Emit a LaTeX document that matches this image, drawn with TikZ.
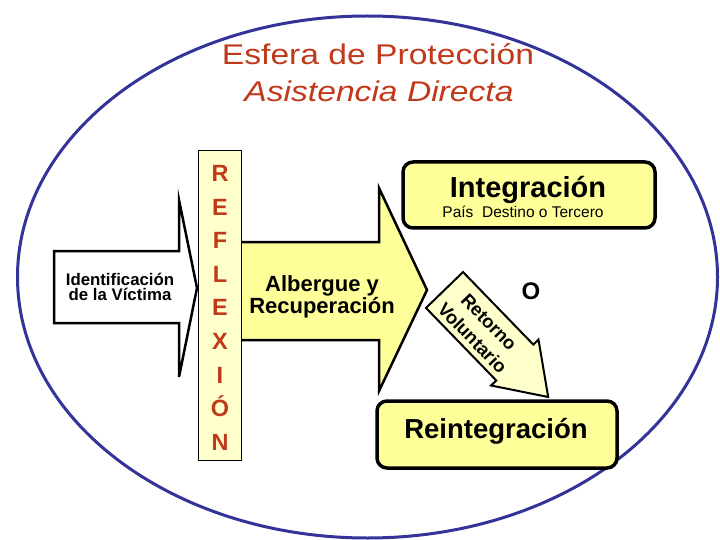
\documentclass[tikz,border=0pt]{standalone}
\usepackage{fontspec}
\setmainfont{Liberation Sans}
\newfontfamily\ancha[FakeStretch=1.18]{Liberation Sans}
\usetikzlibrary{calc}
\definecolor{rojoTit}{HTML}{C0391B}
\definecolor{azulEsf}{HTML}{333399}
\definecolor{amarillo}{HTML}{FFFF99}
\definecolor{crema}{HTML}{FFFFCC}
\tikzset{
	caja/.style={draw, line width=3.5pt, rounded corners=10pt, fill=amarillo, inner sep=0pt},
	flecha/.style={draw=black, line width=2.5pt, line join=miter},
	titulo/.style={text=rojoTit, anchor=base, font={\ancha\fontsize{28.5}{30}\selectfont}},
	letra/.style={text=rojoTit, anchor=base, font={\bfseries\fontsize{23.5}{23}\selectfont}}
}

\begin{document}
\begin{tikzpicture}[x=1pt, y=-1pt]
	\useasboundingbox (0,0) rectangle (720,540);
	\draw[azulEsf, line width=3pt] (367.5,277) ellipse [x radius=350, y radius=261];
	
	\node[titulo] (esfera) at (378,65) {Esfera de Protección};
	\node[titulo] (asist) at (379,102) {\itshape Asistencia Directa};
	
	\draw[flecha, fill=white] (54,251) -- (179,251) -- (179,200) -- (197,288) -- (179,377) -- (179,323) -- (54,323) -- cycle;
	\node[align=center, font={\bfseries\fontsize{16.8}{15}\selectfont}] (ident) at (120,287) {Identificación\\de la Víctima};
	
	\draw[flecha, fill=amarillo] (240,242) -- (379,242) -- (379,188) -- (427,290) -- (379,391) -- (379,340) -- (240,340) -- cycle;
	\node[align=center, font={\bfseries\fontsize{22}{20}\selectfont}] (albergue) at (322,297) {Albergue y\\Recuperación};
	
	\node[draw, line width=0.8pt, fill=crema, minimum width=43, minimum height=310, inner sep=0pt] (barra) at (219.5,305) {};
	\foreach \l [count=\i from 0] in {R,E,F,L,E,X,I,Ó,N}
		\node[letra] (l\i) at (220,{181.5+33.6*\i}) {\l};
	
	\node[caja, minimum width=252, minimum height=66] (integ) at (529,195) {};
	\node[anchor=base, font={\bfseries\fontsize{29}{29}\selectfont}] (integT) at (528,197) {Integración};
	\node[anchor=base, font={\fontsize{15.5}{17}\selectfont}] (pais) at (523,218) {País\ \ Destino o Tercero};
	
	\node[font={\bfseries\fontsize{24}{24}\selectfont}] (o) at (531,291) {O};
	
	\begin{scope}[shift={(444.5,290)}, rotate=-45.9]
		\draw[flecha, line width=2pt, fill=crema] (0,-25.8) -- (101,-25.8) -- (101,-33) -- (149,0) -- (101,33) -- (101,25.8) -- (0,25.8) -- cycle;
		\node[rotate=-46, align=center, font={\bfseries\fontsize{18.5}{23}\selectfont}] (retorno) at (54,2) {Retorno\\Voluntario};
	\end{scope}
	
	\node[caja, minimum width=240, minimum height=67] (reint) at (497,434.5) {};
	\node[anchor=base, font={\bfseries\fontsize{27.5}{29}\selectfont}] (reintT) at (496,438) {Reintegración};
\end{tikzpicture}
\end{document}
